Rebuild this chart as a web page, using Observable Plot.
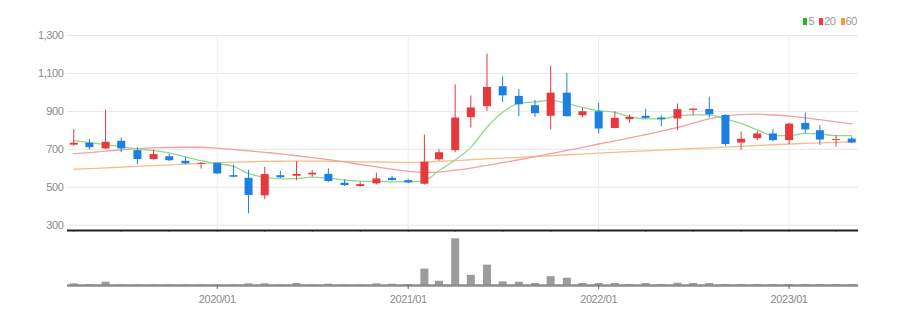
<!DOCTYPE html>
<html>
<head>
<meta charset="utf-8">
<script src="https://cdn.jsdelivr.net/npm/d3@7"></script>
<script src="https://cdn.jsdelivr.net/npm/@observablehq/plot@0.6"></script>
<style>
  html, body { margin: 0; padding: 0; background: #fff; }
  #wrap { width: 904px; font-family: "Liberation Sans Narrow", "Arial Narrow", "Liberation Sans", sans-serif; }
  #legend { height: 30px; position: relative; }
  #legend .items { position: absolute; right: 47px; top: 15px; display: flex; align-items: center; font-size: 11px; color: #999; letter-spacing: -0.4px; }
  #legend .sw { display: inline-block; width: 4px; height: 7px; margin-right: 1px; }
  #legend .lab { margin-right: 5px; }
  #legend .lab:last-child { margin-right: 0; }
  svg { display: block; }
</style>
</head>
<body>
<div id="wrap">
  <div id="legend"></div>
  <div id="price"></div>
  <div id="volume"></div>
</div>
<script>
// ---- data (monthly candles) ----
const months = [
  "2019-04","2019-05","2019-06","2019-07","2019-08","2019-09","2019-10","2019-11","2019-12","2020-01",
  "2020-02","2020-03","2020-04","2020-05","2020-06","2020-07","2020-08","2020-09","2020-10","2020-11",
  "2020-12","2021-01","2021-02","2021-03","2021-04","2021-05","2021-06","2021-07","2021-08","2021-09",
  "2021-10","2021-11","2021-12","2022-01","2022-02","2022-03","2022-04","2022-05","2022-06","2022-07",
  "2022-08","2022-09","2022-10","2022-11","2022-12","2023-01","2023-02","2023-03","2023-04","2023-05"
];
const openV  = [722,732,702,742,693,646,661,637,621,626, 561,547,455,561,558,565,568,521,504,518, 547,535,516,645,693,867,925,1030,979,930, 874,996,877,898,810,856,874,865,860,905, 910,879,733,756,781,746,837,798,747,754];
const closeV = [732,709,737,702,646,672,640,623,626,570, 553,457,567,550,567,574,530,509,514,544, 535,523,632,682,865,918,1026,982,935,888, 996,872,898,807,863,868,863,856,909,912, 882,725,753,781,746,833,802,749,752,733];
const highV  = [805,752,907,760,707,696,675,658,630,628, 618,590,605,583,635,588,597,539,526,574, 558,542,775,698,1040,981,1202,1082,1014,958, 1137,1100,916,942,898,881,912,877,939,914, 974,882,791,795,804,837,891,825,772,763];
const lowV   = [716,696,700,682,619,644,636,619,596,566, 549,360,435,545,535,553,526,504,500,512, 532,518,511,637,682,812,900,947,872,868, 802,870,866,781,808,837,858,819,798,877, 865,714,696,746,740,725,784,721,711,731];
const ma5    = [746,735,725,714,702,693,681,660,640,624, 610,572,553,544,546,553,547,539,532,530, 528,528,535,588,644,710,816,895,942,950, 958,942,921,903,895,872,860,860,877,882, 882,860,837,802,772,772,784,781,772,772];
const ma20   = [677,683,690,697,704,708,710,711,711,706, 699,692,684,676,666,656,646,634,620,607, 595,584,578,580,590,601,615,630,645,661, 677,694,710,728,744,760,778,796,815,838, 860,876,883,885,881,875,866,856,845,834];
const ma60   = [595,598,602,606,610,614,618,622,626,629, 632,634,636,637,638,638,637,636,634,633, 632,631,633,636,640,645,650,654,658,662, 666,670,675,680,684,688,692,696,700,704, 708,712,716,720,724,728,731,734,737,740];
const volume = [5,3,10,2,2,2,2,2,2,2, 2,5,5,2,6,2,4,2,2,5, 4,3,50,13,142,31,62,11,10,6, 27,22,6,6,6,3,6,3,7,6, 6,3,3,3,3,3,3,3,3,3];

const yTicks = [300, 500, 700, 900, 1100, 1300];
const xTickLabels = ["2020/01", "2021/01", "2022/01", "2023/01"];
const legendNames = ["5", "20", "60"];

// ---- styles ----
const UP = "#e8383b", DOWN = "#1c7fe4";
const MA_COLORS = ["#8fd88f", "#f3a0a0", "#f6bd86"];
const LEGEND_COLORS = ["#22b522", "#f0393d", "#f39a30"];
const FONT = '"Liberation Sans Narrow", "Arial Narrow", "Liberation Sans", sans-serif';

const rows = months.map((m, i) => ({
  date: new Date(m + "-01"),
  open: openV[i], close: closeV[i], high: highV[i], low: lowV[i],
  ma5: ma5[i], ma20: ma20[i], ma60: ma60[i], volume: volume[i]
}));
const tickDates = xTickLabels.map(s => new Date(s.replace("/", "-") + "-01"));
const xDomain = [new Date("2019-03-20"), new Date("2023-05-14")];
const col = d => d.close >= d.open ? UP : DOWN;

// legend
const leg = document.createElement("div");
leg.className = "items";
legendNames.forEach((n, i) => {
  const sw = document.createElement("span");
  sw.className = "sw"; sw.style.background = LEGEND_COLORS[i];
  const lb = document.createElement("span");
  lb.className = "lab"; lb.textContent = n;
  leg.appendChild(sw); leg.appendChild(lb);
});
document.getElementById("legend").appendChild(leg);

// price panel
const price = Plot.plot({
  width: 904, height: 202,
  marginLeft: 67, marginRight: 46, marginTop: 5, marginBottom: 2,
  style: { fontFamily: FONT, fontSize: "11px", color: "#8a8a8a", background: "transparent", letterSpacing: "-0.4px" },
  x: { type: "utc", domain: xDomain },
  y: { domain: [272, 1300] },
  marks: [
    Plot.gridY(yTicks, { stroke: "#e8e8e8", strokeOpacity: 1 }),
    Plot.gridX(tickDates, { stroke: "#ececec", strokeOpacity: 1 }),
    Plot.axisY(yTicks, { tickSize: 0, tickPadding: 4, tickFormat: d3.format(","), fill: "#8a8a8a" }),
    Plot.line(rows, { x: "date", y: "ma60", stroke: MA_COLORS[2], strokeWidth: 1.3, curve: "monotone-x" }),
    Plot.line(rows, { x: "date", y: "ma20", stroke: MA_COLORS[1], strokeWidth: 1.3, curve: "monotone-x" }),
    Plot.line(rows, { x: "date", y: "ma5", stroke: MA_COLORS[0], strokeWidth: 1.3, curve: "monotone-x" }),
    Plot.ruleX(rows, { x: "date", y1: "low", y2: "high", stroke: col, strokeWidth: 1 }),
    Plot.ruleX(rows, { x: "date", y1: "open", y2: "close", stroke: col, strokeWidth: 8 }),
    Plot.ruleY([272], { stroke: "#222", strokeWidth: 2 })
  ]
});
document.getElementById("price").appendChild(price);

// volume panel
const vol = Plot.plot({
  width: 904, height: 89,
  marginLeft: 67, marginRight: 46, marginTop: 5, marginBottom: 36,
  style: { fontFamily: FONT, fontSize: "11px", color: "#8a8a8a", background: "transparent", letterSpacing: "-0.4px" },
  x: { type: "utc", domain: xDomain },
  y: { domain: [0, 146], axis: null },
  marks: [
    Plot.ruleX(rows, { x: "date", y1: 0, y2: "volume", stroke: "#9c9c9c", strokeWidth: 8 }),
    Plot.ruleY([0], { stroke: "#8c8c8c", strokeWidth: 2.5 }),
    Plot.axisX(tickDates, { tickSize: 4, tickPadding: 6, stroke: "#666", fill: "#8a8a8a", tickFormat: (d, i) => xTickLabels[i] })
  ]
});
document.getElementById("volume").appendChild(vol);
</script>
</body>
</html>
